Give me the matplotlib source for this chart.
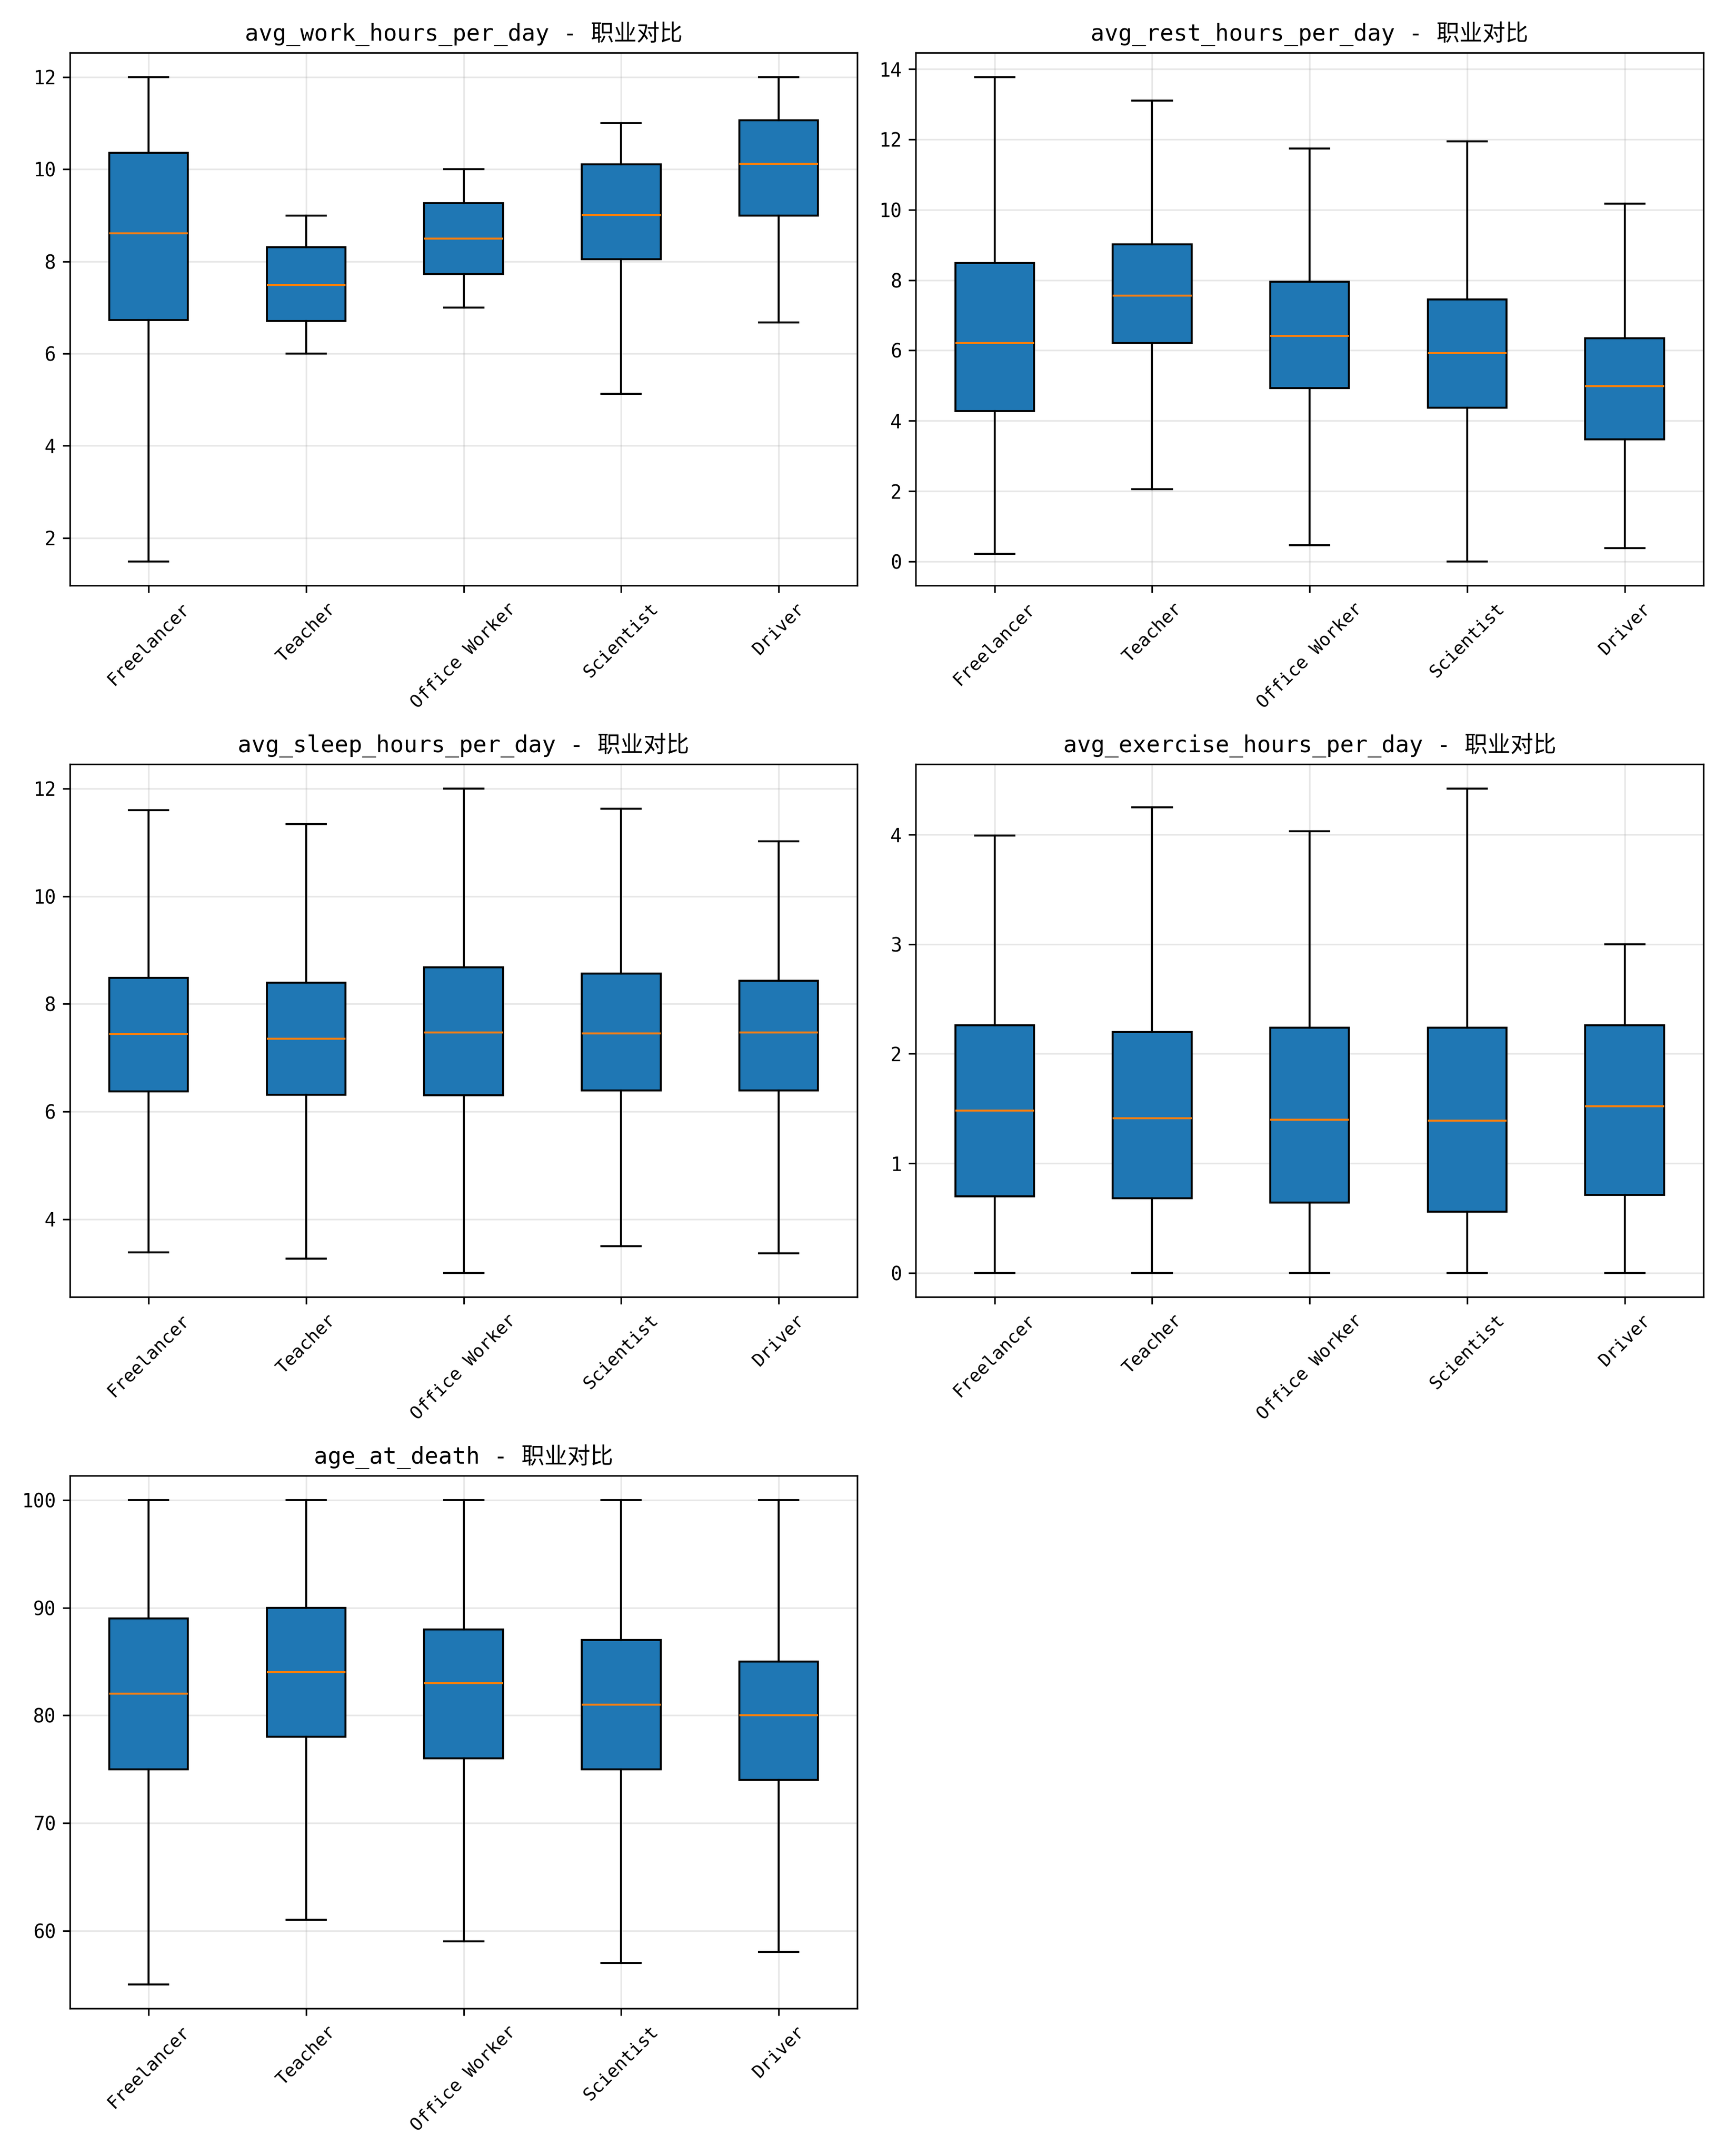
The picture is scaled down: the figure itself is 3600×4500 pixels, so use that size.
import matplotlib
matplotlib.use('Agg')
import matplotlib.pyplot as plt

plt.rcParams['font.family'] = ['DejaVu Sans Mono', 'Noto Sans CJK SC']
plt.rcParams['axes.unicode_minus'] = False

occupations = ['Freelancer', 'Teacher', 'Office Worker', 'Scientist', 'Driver']
metrics = ['avg_work_hours_per_day', 'avg_rest_hours_per_day', 'avg_sleep_hours_per_day',
           'avg_exercise_hours_per_day', 'age_at_death']

# box stats: [whislo, q1, med, q3, whishi] per occupation
work_stats = [
    [1.49, 6.73, 8.61, 10.36, 12.0],
    [6.0, 6.71, 7.49, 8.31, 9.0],
    [7.0, 7.73, 8.5, 9.27, 10.0],
    [5.13, 8.05, 9.01, 10.11, 11.0],
    [6.68, 8.99, 10.12, 11.06, 12.0],
]
rest_stats = [
    [0.21, 4.27, 6.21, 8.48, 13.77],
    [2.06, 6.21, 7.56, 9.01, 13.10],
    [0.46, 4.93, 6.41, 7.95, 11.74],
    [0.0, 4.37, 5.93, 7.45, 11.95],
    [0.38, 3.47, 4.99, 6.34, 10.18],
]
sleep_stats = [
    [3.38, 6.37, 7.44, 8.48, 11.60],
    [3.27, 6.31, 7.35, 8.39, 11.34],
    [3.0, 6.30, 7.47, 8.68, 12.0],
    [3.50, 6.39, 7.45, 8.56, 11.63],
    [3.36, 6.39, 7.47, 8.43, 11.02],
]
exercise_stats = [
    [0.0, 0.70, 1.48, 2.26, 3.99],
    [0.0, 0.68, 1.41, 2.20, 4.25],
    [0.0, 0.64, 1.40, 2.24, 4.03],
    [0.0, 0.56, 1.39, 2.24, 4.42],
    [0.0, 0.71, 1.52, 2.26, 3.0],
]
age_stats = [
    [55, 75, 82, 89, 100],
    [61, 78, 84, 90, 100],
    [59, 76, 83, 88, 100],
    [57, 75, 81, 87, 100],
    [58, 74, 80, 85, 100],
]
all_stats = [work_stats, rest_stats, sleep_stats, exercise_stats, age_stats]

fig, axes = plt.subplots(3, 2, figsize=(12, 15), dpi=300)
axes = axes.flatten()

for i, metric in enumerate(metrics):
    ax = axes[i]
    stats = []
    for name, s in zip(occupations, all_stats[i]):
        stats.append({'label': name, 'whislo': s[0], 'q1': s[1], 'med': s[2],
                      'q3': s[3], 'whishi': s[4], 'fliers': []})
    ax.bxp(stats, patch_artist=True, showfliers=False,
           boxprops=dict(facecolor='C0', edgecolor='black'),
           medianprops=dict(color='C1'))
    ax.set_title(metric + ' - 职业对比', fontsize=11.5)
    ax.tick_params(axis='x', rotation=45, labelsize=9)
    ax.tick_params(axis='y', labelsize=9.5)
    ax.grid(True, alpha=0.3)

fig.delaxes(axes[5])
plt.tight_layout()
plt.savefig('out.png', dpi=300)
